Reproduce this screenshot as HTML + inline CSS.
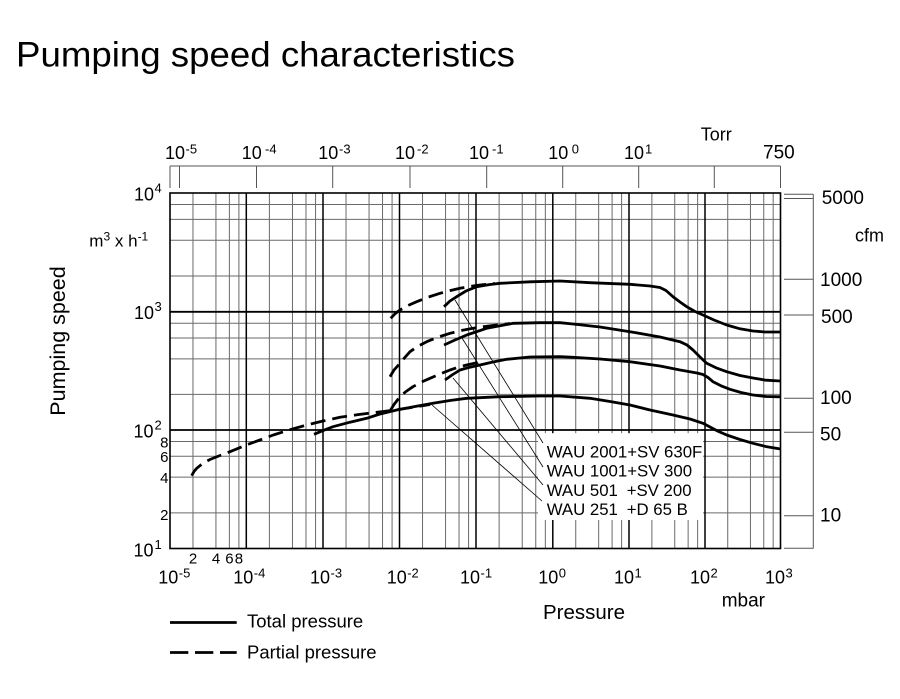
<!DOCTYPE html>
<html><head><meta charset="utf-8"><style>
html,body{margin:0;padding:0;background:#fff;}
svg{display:block;}
text{font-family:"Liberation Sans",Arial,Helvetica,sans-serif;fill:#000;}
</style></head><body>
<svg width="900" height="699" viewBox="0 0 900 699" xmlns="http://www.w3.org/2000/svg">
<rect width="900" height="699" fill="#fff"/>
<text x="16" y="66.7" font-size="35.5" textLength="499" lengthAdjust="spacingAndGlyphs">Pumping speed characteristics</text>

<!-- Torr axis -->
<g stroke="#555" stroke-width="1" fill="none">
<line x1="170" y1="166" x2="780.5" y2="166"/>
<line x1="170" y1="166" x2="170" y2="188"/>
<line x1="179.5" y1="166" x2="179.5" y2="188"/>
<line x1="256.5" y1="166" x2="256.5" y2="188"/>
<line x1="332.7" y1="166" x2="332.7" y2="188"/>
<line x1="410" y1="166" x2="410" y2="188"/>
<line x1="486.7" y1="166" x2="486.7" y2="188"/>
<line x1="562.7" y1="166" x2="562.7" y2="188"/>
<line x1="638.7" y1="166" x2="638.7" y2="188"/>
<line x1="714.3" y1="166" x2="714.3" y2="188"/>
<line x1="780.5" y1="166" x2="780.5" y2="188"/>
</g>
<g font-size="18">
<text x="165" y="159">10<tspan x="185.5" y="153.5" font-size="13">-5</tspan></text>
<text x="241.7" y="159">10<tspan x="265" y="153.5" font-size="13">-4</tspan></text>
<text x="318.3" y="159">10<tspan x="339" y="153.5" font-size="13">-3</tspan></text>
<text x="395" y="159">10<tspan x="417" y="153.5" font-size="13">-2</tspan></text>
<text x="469" y="159">10<tspan x="492" y="153.5" font-size="13">-1</tspan></text>
<text x="548.3" y="159">10<tspan x="571.7" y="153.5" font-size="13">0</tspan></text>
<text x="624" y="159">10<tspan x="645" y="153.5" font-size="13">1</tspan></text>
<text x="700.7" y="140.7">Torr</text>
<text x="763" y="158.3" font-size="19">750</text>
</g>

<!-- grid minor -->
<g stroke="#6a6a6a" stroke-width="1" fill="none">
<path d="M192.97 193V548.5M215.93 193V548.5M229.37 193V548.5M238.9 193V548.5
M269.39 193V548.5M292.47 193V548.5M305.98 193V548.5M315.56 193V548.5
M346.03 193V548.5M369.05 193V548.5M382.53 193V548.5M392.08 193V548.5
M422.53 193V548.5M445.55 193V548.5M459.03 193V548.5M468.58 193V548.5
M499.12 193V548.5M522.23 193V548.5M535.76 193V548.5M545.35 193V548.5
M575.74 193V548.5M598.67 193V548.5M612.09 193V548.5M621.61 193V548.5
M651.88 193V548.5M674.75 193V548.5M688.14 193V548.5M697.63 193V548.5
M727.73 193V548.5M750.45 193V548.5M763.75 193V548.5M773.18 193V548.5"/>
<path d="M170 276.04H780.5M170 240.28H780.5M170 219.36H780.5M170 204.52H780.5
M170 394.42H780.5M170 358.84H780.5M170 338.03H780.5M170 323.26H780.5
M170 512.83H780.5M170 477.16H780.5M170 456.29H780.5M170 441.49H780.5"/>
</g>
<!-- grid major -->
<g stroke="#000" stroke-width="1.5" fill="none">
<path d="M246.3 193V548.5M323 193V548.5M399.5 193V548.5M476 193V548.5M552.8 193V548.5M629 193V548.5M705 193V548.5"/>
<path d="M170 311.8H780.5M170 430H780.5" stroke-width="1.8"/>
<rect x="170" y="193" width="610.5" height="355.5" stroke-width="1.6"/>
</g>

<!-- label box mask -->
<rect x="538" y="433.2" width="165" height="86.8" fill="#fff"/>

<!-- right cfm axis -->
<g stroke="#555" stroke-width="1" fill="none">
<line x1="813.3" y1="194.3" x2="813.3" y2="548.5"/>
<path d="M784 194.3H813.3M784 198.5H813.3M784 279.3H813.3M784 315H813.3M784 398.3H813.3M784 432.3H813.3M784 515.7H813.3M784 548.3H813.3"/>
</g>
<g font-size="19">
<text x="821.7" y="204">5000</text>
<text x="855" y="241.7" font-size="18">cfm</text>
<text x="820" y="286">1000</text>
<text x="821" y="323">500</text>
<text x="820" y="404">100</text>
<text x="820" y="440.7">50</text>
<text x="820" y="521.7">10</text>
</g>

<!-- left axis labels -->
<g font-size="18">
<text x="134" y="200.7">10<tspan x="154.5" y="192.5" font-size="13">4</tspan></text>
<text x="134" y="319">10<tspan x="154.5" y="311" font-size="13">3</tspan></text>
<text x="133.5" y="437.3">10<tspan x="154.5" y="429.3" font-size="13">2</tspan></text>
<text x="133.5" y="556.7">10<tspan x="154.5" y="549" font-size="13">1</tspan></text>
</g>
<g font-size="15" text-anchor="end">
<text x="168.5" y="447.5">8</text>
<text x="168.5" y="462">6</text>
<text x="168.5" y="483">4</text>
<text x="168.5" y="520">2</text>
</g>
<text x="89.3" y="246.7" font-size="17">m<tspan font-size="12" dy="-6">3</tspan><tspan dy="6"> x h</tspan><tspan font-size="12" dy="-6">-1</tspan></text>
<text transform="translate(65,341) rotate(-90)" text-anchor="middle" font-size="21.5">Pumping speed</text>

<!-- bottom axis labels -->
<g font-size="15" text-anchor="middle">
<text x="193" y="563.5">2</text>
<text x="216" y="563.5">4</text>
<text x="229.4" y="563.5">6</text>
<text x="238.9" y="563.5">8</text>
</g>
<g font-size="18">
<text x="158.3" y="583.3">10<tspan x="178.8" y="577.5" font-size="13">-5</tspan></text>
<text x="233.3" y="583.3">10<tspan x="253.8" y="577.5" font-size="13">-4</tspan></text>
<text x="310" y="583.3">10<tspan x="330.5" y="577.5" font-size="13">-3</tspan></text>
<text x="386.7" y="583.3">10<tspan x="407.2" y="577.5" font-size="13">-2</tspan></text>
<text x="460" y="583.3">10<tspan x="480.5" y="577.5" font-size="13">-1</tspan></text>
<text x="538.3" y="583.3">10<tspan x="558.8" y="577.5" font-size="13">0</tspan></text>
<text x="614" y="583.3">10<tspan x="634.5" y="577.5" font-size="13">1</tspan></text>
<text x="690" y="583.3">10<tspan x="710.5" y="577.5" font-size="13">2</tspan></text>
<text x="765" y="583.3">10<tspan x="785.5" y="577.5" font-size="13">3</tspan></text>
<text x="721.7" y="606.7" font-size="19">mbar</text>
<text x="543" y="619" font-size="20.5">Pressure</text>
</g>

<!-- leader lines -->
<g stroke="#000" stroke-width="0.8" fill="none">
<line x1="455" y1="300" x2="543" y2="443"/>
<line x1="462" y1="338" x2="543" y2="467"/>
<line x1="453" y1="378" x2="543" y2="485"/>
<line x1="432" y1="405" x2="542" y2="501"/>
</g>

<!-- curves -->
<g stroke="#000" stroke-width="2.8" fill="none" stroke-linejoin="round" stroke-linecap="butt">
<polyline points="444,306.7 450,301 456.7,296.7 466,291 476.7,286.7 490,284.5 500,283.3 530,281.8 560,281 590,282.7 630,284.3 650,286 660,287.5 666,290.5 673,296.7 680,302 686.7,306.7 695,311.5 703,315 714,320 726.7,325 740,328.8 753,331 765,332 780.5,332"/>
<polyline points="444,345 455,340 466.7,335 486.7,328.3 513.3,323.3 540,322.7 560,322.7 573,324 600,327 630,331.7 660,337 680,341.7 687,345 693,350 700,357 706.7,363.3 716,367.8 726.7,371.7 740,375.5 753,378 766,380.2 780.5,381"/>
<polyline points="445,380 452,375 460,370 470,367.2 480,365 493,362 506.7,359.3 530,357 560,356.7 573,357.3 600,359 630,361.7 660,366 680,370 697,373 703,374.5 708,377.5 713,381.7 721,385.8 730,389.3 741,392.5 753,395 766,396.5 780.5,396.8"/>
<polyline points="314,434.3 324,430.2 333,426.7 350,422.2 366.7,418.3 380,414 396.7,410 415,406.5 433,403.3 450,400.5 466.7,398.3 500,396.7 540,396 560,396 590,398.3 610,401.5 630,405 650,410 673,415 690,419 703,423.3 710,427 718,431.2 726.7,435 740,439.5 753,443.3 767,446.8 780.5,449"/>
</g>
<g stroke="#000" stroke-width="2.8" fill="none" stroke-dasharray="15 7" stroke-linejoin="round">
<polyline points="390.7,318.3 395,313.8 400,310 408,305.5 416.7,301.7 428,297.2 440,293.3 450,290.6 460,288.3 470,286.5 480,285 495,283.5"/>
<polyline points="390,376.7 394,370 400,363.3 405,357.3 410,351.7 418,346.2 426.7,341.7 438,337.2 450,333.3 461,330.6 473,328.3 485,326.5 496.7,325 510,323.5"/>
<polyline points="390,411 394,404.5 400,396.7 406,391.5 413,386.7 421,382.3 430,378.3 440,374 450,370 458,367.3 466.7,365 480,362"/>
<polyline points="191.7,475.7 194,471.5 196.7,468.3 203,463.2 210,459.5 220,455.5 230,451.7 246.7,444.8 260,440 273.3,435 290,429.7 306.7,425 323,421 340,417.3 357,414.8 373.3,412.7 390,410.7 403,408.8 416.7,406.7 430,404.5"/>
</g>

<!-- label text -->
<g font-size="16.8">
<text x="546.7" y="457.3">WAU 2001+SV 630F</text>
<text x="546.7" y="476.7">WAU 1001+SV 300</text>
<text x="546.7" y="496">WAU 501</text><text x="626.7" y="496">+SV 200</text>
<text x="546.7" y="515.2">WAU 251</text><text x="626.7" y="515.2">+D 65 B</text>
</g>

<!-- legend -->
<line x1="170" y1="622.5" x2="236.7" y2="622.5" stroke="#000" stroke-width="2.8"/>
<line x1="170" y1="652.5" x2="236.7" y2="652.5" stroke="#000" stroke-width="2.8" stroke-dasharray="18.3 6.7"/>
<text x="247" y="627.5" font-size="18.5">Total pressure</text>
<text x="247" y="658.5" font-size="18.5">Partial pressure</text>
</svg>
</body></html>
